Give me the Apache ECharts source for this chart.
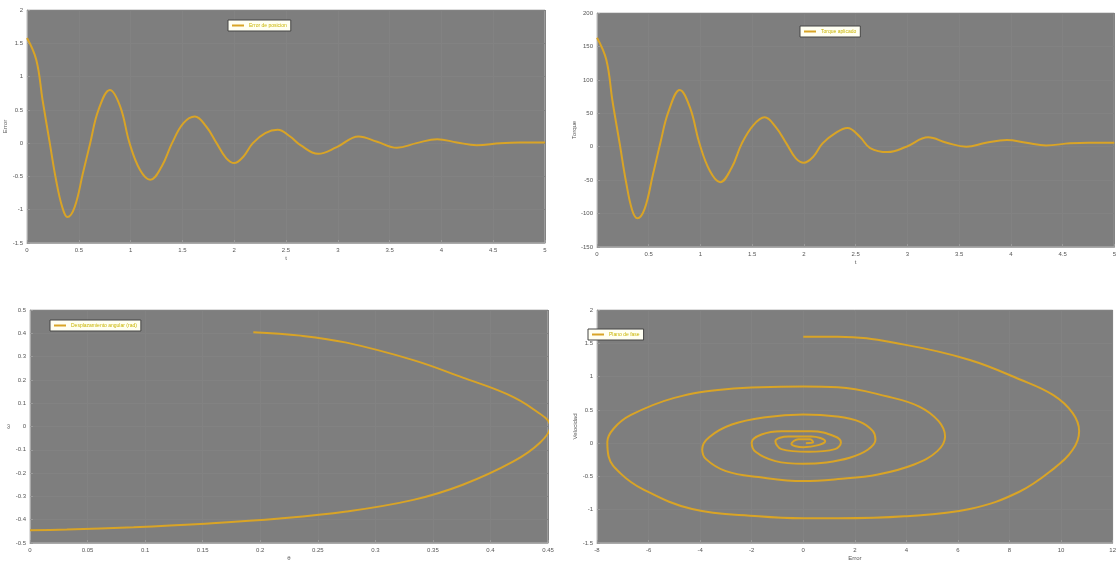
<!DOCTYPE html>
<html><head><meta charset="utf-8">
<script src="https://cdn.jsdelivr.net/npm/echarts@6/dist/echarts.min.js"></script>
<style>html,body{margin:0;padding:0;background:#fff}#c{width:1119px;height:562px}</style>
</head><body><div id="c"></div>
<script>
// ---- data ----
const errT = [0,0.09,0.15,0.22,0.28,0.34,0.39,0.46,0.54,0.61,0.69,0.8,0.9,0.99,1.09,1.19,1.3,1.4,1.51,1.62,1.73,1.83,1.92,2.0,2.09,2.18,2.3,2.42,2.54,2.64,2.81,2.99,3.2,3.38,3.57,3.76,3.96,4.15,4.34,4.57,4.75,5];
const errV = [1.58,1.25,0.65,0,-0.55,-0.96,-1.11,-0.96,-0.45,0,0.5,0.8,0.55,0,-0.4,-0.55,-0.35,0,0.3,0.4,0.25,0,-0.22,-0.3,-0.2,0,0.15,0.2,0.1,-0.03,-0.16,-0.06,0.1,0.02,-0.07,0,0.06,0.01,-0.03,0,0.01,0.01];
const torqueV = [163,130,68,4,-52,-95,-107,-93,-42,4,52,85,58,5,-36,-53,-32,5,32,44,29,5,-17,-24,-15,5,20,28,15,-2,-8,0,14,6,0,6,10,6,2,5,6,6];
const thetaX = [0.194,0.235,0.275,0.333,0.376,0.414,0.437,0.452,0.443,0.42,0.376,0.333,0.275,0.217,0.148,0.09,0.032,0];
const omegaY = [0.405,0.39,0.36,0.285,0.21,0.14,0.075,0,-0.07,-0.15,-0.25,-0.315,-0.365,-0.395,-0.418,-0.432,-0.442,-0.445];
const phaseX = [0,1.35,3.92,6.46,8.38,9.7,10.45,10.7,10.45,9.69,8.38,6.46,3.92,1.35,0,-1.73,-4.31,-6.23,-7.1,-7.55,-7.6,-7.35,-6.7,-5.0,-3.0,0,1.35,3.27,4.5,5.25,5.5,5.2,4.3,2.9,1.35,0,-1.73,-3.0,-3.77,-3.92,-3.65,-2.77,-1.46,0,1.3,2.2,2.7,2.8,2.5,1.8,0.9,0,-1.08,-1.85,-2.0,-1.62,-0.85,0.31,1.23,1.46,1.23,0.19,-0.85,-1.08,-0.58,0.31,0.85,0.58,0,-0.46,-0.19,0.27,0.38,0.1];
const phaseY = [1.6,1.6,1.48,1.25,0.96,0.72,0.45,0.18,-0.1,-0.39,-0.73,-0.99,-1.10,-1.13,-1.13,-1.10,-0.99,-0.69,-0.45,-0.2,0.02,0.22,0.42,0.68,0.81,0.85,0.84,0.70,0.55,0.33,0.1,-0.12,-0.32,-0.47,-0.54,-0.57,-0.51,-0.42,-0.24,-0.09,0.09,0.28,0.39,0.43,0.40,0.32,0.18,0.05,-0.1,-0.22,-0.29,-0.31,-0.27,-0.13,0.01,0.13,0.18,0.18,0.10,0.01,-0.09,-0.13,-0.09,0.03,0.10,0.10,0.03,-0.03,-0.06,-0.01,0.06,0.06,0.01,0];
const names = ['Error de posicion','Torque aplicado','Desplazamiento angular (rad)','Plano de fase'];

const zip = (a,b) => a.map((v,i)=>[v,b[i]]);
const lineColor = '#d9a426';
const lbl = {fontSize:6, color:'#555', margin:4};
const split = {show:true,lineStyle:{color:'#828282',width:1}};
function xa(idx, min, max, iv, name){ return {type:'value', gridIndex:idx, min, max, interval:iv, name, nameLocation:'middle', nameGap:12,
  nameTextStyle:{fontSize:6,color:'#555'}, axisLabel:lbl, axisLine:{show:true,onZero:false,lineStyle:{color:'#aaa'}},
  axisTick:{inside:true,length:3,lineStyle:{color:'#999'}}, splitLine:split}; }
function ya(idx, min, max, iv, name, gap){ return {type:'value', gridIndex:idx, min, max, interval:iv, name, nameLocation:'middle', nameGap:gap,
  nameTextStyle:{fontSize:6,color:'#555'}, axisLabel:lbl, axisLine:{show:true,onZero:false,lineStyle:{color:'#aaa'}},
  axisTick:{inside:true,length:3,lineStyle:{color:'#999'}}, splitLine:split}; }
function lg(name, left, top){ return {data:[name], left, top, orient:'horizontal', backgroundColor:'#fffff2', borderColor:'#444', borderWidth:1,
  padding:[3,4], itemWidth:12, itemHeight:2, itemGap:4, textStyle:{fontSize:5, color:'#c9b400'}, icon:'rect'}; }
const gridBase = {show:true, backgroundColor:'#7e7e7e', borderColor:'#bbb', borderWidth:1};
const chart = echarts.init(document.getElementById('c'), null, {renderer:'canvas'});
const ser = (i, data) => ({name:names[i], type:'line', xAxisIndex:i, yAxisIndex:i, data, smooth:0.4, showSymbol:false,
  lineStyle:{color:lineColor,width:2}, itemStyle:{color:lineColor}});
chart.setOption({
  animation:false,
  grid:[
    Object.assign({left:27, top:10, width:518, height:233}, gridBase),
    Object.assign({left:597, top:13, width:520, height:234}, gridBase),
    Object.assign({left:30, top:310, width:518, height:233}, gridBase),
    Object.assign({left:597, top:310, width:520, height:235}, gridBase)
  ],
  xAxis:[ xa(0,0,5,0.5,'t'), xa(1,0,5,0.5,'t'), xa(2,0,0.45,0.05,'θ'), xa(3,-8,12,2,'Error') ],
  yAxis:[ ya(0,-1.5,2,0.5,'Error',16), ya(1,-150,200,50,'Torque',18), ya(2,-0.5,0.5,0.1,'ω',18), ya(3,-1.5,2,0.5,'Velocidad',18) ],
  legend:[ lg(names[0],228,20), lg(names[1],800,26), lg(names[2],50,320), lg(names[3],588,329) ],
  series:[ ser(0, zip(errT,errV)), ser(1, zip(errT,torqueV)), ser(2, zip(thetaX,omegaY)), ser(3, zip(phaseX,phaseY)) ]
});
</script></body></html>
